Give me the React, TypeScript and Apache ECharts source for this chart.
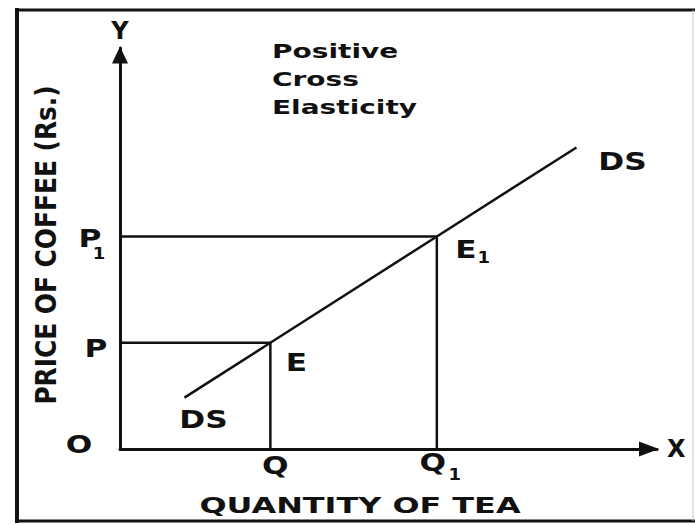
import React, { useEffect, useRef } from "react";
import * as echarts from "echarts";

// Equilibrium quantities of tea (Q, Q1) and prices of coffee (P, P1)
const quantityTea = [28, 59];
const priceCoffee = [26.5, 53];

// Cross-demand curve DS (quantity of tea against price of coffee)
const dsQuantity = [12, 28, 59, 85];
const dsPrice = [12.8, 26.5, 53, 75.2];

// Letters written next to points of the diagram
const pointLabelText = ["E", "E", "DS", "DS", "Q", "Q", "P", "P", "O"];
const pointLabelSub = ["", "1", "", "", "", "1", "", "1", ""];

const xTitle = "QUANTITY OF TEA";
const yTitle = "PRICE OF COFFEE (Rs.)";
const noteLines = ["Positive", "Cross", "Elasticity"];

const FONT = "DejaVu Sans";
const INK = "#111111";

// Pixel offsets of each letter from its anchor point, and of its subscript
const LABEL_OFFSETS: number[][] = [
  [26, 20],
  [29, 13],
  [19, 22],
  [46, 14],
  [5, 17],
  [-4, 14],
  [-24, 6],
  [-30, 2],
  [-41, -4],
];
const SUB_OFFSETS: number[][] = [
  [0, 0],
  [18, 9],
  [0, 0],
  [0, 0],
  [0, 0],
  [22, 12],
  [0, 0],
  [9, 16],
  [0, 0],
];

export default function App() {
  const ref = useRef<HTMLDivElement>(null);

  useEffect(() => {
    if (!ref.current) return;
    const chart = echarts.init(ref.current, null, { renderer: "svg" });

    const anchors: number[][] = [
      [quantityTea[0], priceCoffee[0]],
      [quantityTea[1], priceCoffee[1]],
      [dsQuantity[0], dsPrice[0]],
      [dsQuantity[dsQuantity.length - 1], dsPrice[dsPrice.length - 1]],
      [quantityTea[0], 0],
      [quantityTea[1], 0],
      [0, priceCoffee[0]],
      [0, priceCoffee[1]],
      [0, 0],
    ];

    const guide = (i: number) => ({
      type: "line",
      data: [
        [0, priceCoffee[i]],
        [quantityTea[i], priceCoffee[i]],
        [quantityTea[i], 0],
      ],
      symbol: "none",
      clip: false,
      silent: true,
      lineStyle: { color: INK, width: 2.5 },
    });

    const axisName = { fontFamily: FONT, fontWeight: "bold", fontSize: 24, color: INK };

    chart.setOption({
      animation: false,
      backgroundColor: "#ffffff",
      grid: { left: 120, top: 48, right: 38, bottom: 76, outerBoundsMode: "none" },
      xAxis: {
        type: "value",
        min: 0,
        max: 100,
        name: "X",
        nameLocation: "end",
        nameGap: 10,
        nameTextStyle: axisName,
        axisLine: {
          show: true,
          symbol: ["none", "triangle"],
          symbolSize: [15, 20],
          symbolOffset: [0, -8],
          lineStyle: { color: INK, width: 3 },
        },
        axisTick: { show: false },
        axisLabel: { show: false },
        splitLine: { show: false },
      },
      yAxis: {
        type: "value",
        min: 0,
        max: 100,
        name: "Y",
        nameLocation: "end",
        nameGap: 5,
        nameTextStyle: axisName,
        axisLine: {
          show: true,
          symbol: ["none", "triangle"],
          symbolSize: [16, 17],
          symbolOffset: [0, -7],
          lineStyle: { color: INK, width: 3 },
        },
        axisTick: { show: false },
        axisLabel: { show: false },
        splitLine: { show: false },
      },
      series: [
        guide(0),
        guide(1),
        {
          type: "line",
          data: dsQuantity.map((q, i) => [q, dsPrice[i]]),
          symbol: "none",
          clip: false,
          silent: true,
          lineStyle: { color: INK, width: 2.5 },
        },
        {
          type: "custom",
          clip: false,
          silent: true,
          data: anchors,
          renderItem: (params: any, api: any) => {
            const i = params.dataIndex;
            const pt = api.coord([api.value(0), api.value(1)]);
            const off = LABEL_OFFSETS[i];
            const cx = pt[0] + off[0];
            const cy = pt[1] + off[1];
            const children: any[] = [
              {
                type: "text",
                x: cx,
                y: cy,
                scaleX: 1.3,
                style: {
                  text: pointLabelText[i],
                  fontFamily: FONT,
                  fontWeight: "bold",
                  fontSize: 24,
                  fill: INK,
                  align: "center",
                  verticalAlign: "middle",
                },
              },
            ];
            if (pointLabelSub[i]) {
              const so = SUB_OFFSETS[i];
              children.push({
                type: "text",
                x: cx + so[0],
                y: cy + so[1],
                scaleX: 1.2,
                style: {
                  text: pointLabelSub[i],
                  fontFamily: FONT,
                  fontWeight: "bold",
                  fontSize: 15,
                  fill: INK,
                  align: "center",
                  verticalAlign: "middle",
                },
              });
            }
            return { type: "group", children };
          },
        },
      ],
      graphic: [
        // frame around the figure
        { type: "line", shape: { x1: 17, y1: 8, x2: 17, y2: 523 }, style: { stroke: INK, lineWidth: 4 } },
        { type: "line", shape: { x1: 15, y1: 10, x2: 695, y2: 10 }, style: { stroke: INK, lineWidth: 3 } },
        { type: "line", shape: { x1: 15, y1: 521, x2: 695, y2: 521 }, style: { stroke: INK, lineWidth: 3 } },
        { type: "line", shape: { x1: 693, y1: 10, x2: 693, y2: 521 }, style: { stroke: "#c8c8c8", lineWidth: 1 } },
        {
          type: "text",
          x: 360,
          y: 505,
          scaleX: 1.45,
          style: {
            text: xTitle,
            fontFamily: FONT,
            fontWeight: "bold",
            fontSize: 22,
            fill: INK,
            align: "center",
            verticalAlign: "middle",
          },
        },
        {
          type: "text",
          x: 47,
          y: 245,
          rotation: Math.PI / 2,
          scaleX: 1.13,
          scaleY: 1.25,
          style: {
            text: yTitle,
            fontFamily: FONT,
            fontWeight: "bold",
            fontSize: 22,
            fill: INK,
            align: "center",
            verticalAlign: "middle",
          },
        },
        {
          type: "text",
          x: 272,
          y: 79,
          scaleX: 1.4,
          style: {
            text: noteLines.join("\n"),
            fontFamily: FONT,
            fontWeight: "bold",
            fontSize: 20,
            lineHeight: 28,
            fill: INK,
            align: "left",
            verticalAlign: "middle",
          },
        },
      ],
    });

    return () => chart.dispose();
  }, []);

  return (
    <div
      ref={ref}
      style={{ position: "fixed", left: 0, top: 0, width: 695, height: 525, background: "#fff" }}
    />
  );
}
